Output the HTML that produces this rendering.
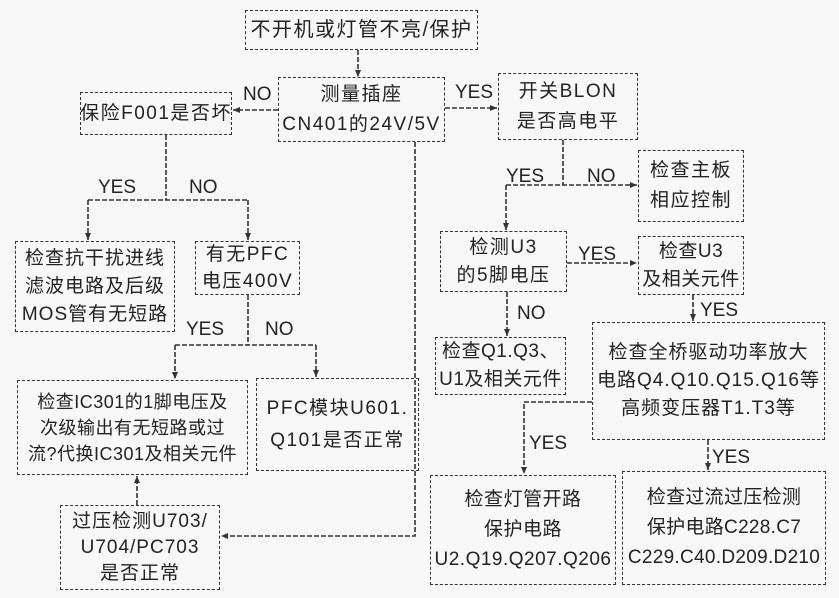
<!DOCTYPE html>
<html><head><meta charset="utf-8"><style>
html,body{margin:0;padding:0;background:#fff;}
#c{position:relative;width:839px;height:598px;overflow:hidden;background:#f8f8f8;font-family:"Liberation Sans","Noto Sans CJK SC",sans-serif;color:#222;}
.b{position:absolute;border:1.8px dashed #333;box-sizing:border-box;display:flex;align-items:center;justify-content:center;text-align:center;font-size:19px;line-height:27px;letter-spacing:1.5px;white-space:nowrap;}
.t{position:absolute;font-size:19px;color:#222;}
svg{position:absolute;left:0;top:0;}
</style></head><body><div id="c">
<svg width="839" height="598" stroke="#333" stroke-width="1.6" fill="none" stroke-dasharray="5 2">
<defs><marker id="a" markerWidth="8" markerHeight="8" refX="7" refY="4" orient="auto" markerUnits="userSpaceOnUse"><path d="M0,1 L7,4 L0,7 Z" fill="#333" stroke="none"/></marker></defs>
<line x1="358" y1="50" x2="358" y2="77" marker-end="url(#a)"/>
<line x1="278" y1="110" x2="233" y2="110" marker-end="url(#a)"/>
<line x1="445" y1="108" x2="497" y2="108" marker-end="url(#a)"/>
<polyline points="166,135 166,200"/>
<line x1="88" y1="200" x2="248" y2="200"/>
<line x1="88" y1="200" x2="88" y2="240" marker-end="url(#a)"/>
<line x1="248" y1="200" x2="248" y2="240" marker-end="url(#a)"/>
<line x1="248" y1="295" x2="248" y2="345"/>
<line x1="175" y1="345" x2="316" y2="345"/>
<line x1="175" y1="345" x2="175" y2="379" marker-end="url(#a)"/>
<line x1="316" y1="345" x2="316" y2="377" marker-end="url(#a)"/>
<line x1="137" y1="505" x2="137" y2="476" marker-end="url(#a)"/>
<polyline points="415,142 415,536 221,536" marker-end="url(#a)"/>
<line x1="563" y1="140" x2="563" y2="185"/>
<line x1="506" y1="185" x2="637" y2="185" marker-end="url(#a)"/>
<line x1="506" y1="185" x2="506" y2="230" marker-end="url(#a)"/>
<line x1="567" y1="263" x2="637" y2="263" marker-end="url(#a)"/>
<line x1="507" y1="292" x2="507" y2="336" marker-end="url(#a)"/>
<line x1="693" y1="295" x2="693" y2="321" marker-end="url(#a)"/>
<polyline points="592,402 524,402 524,474" marker-end="url(#a)"/>
<line x1="708" y1="440" x2="708" y2="470" marker-end="url(#a)"/>
</svg>
<div class="b" style="left:245px;top:10px;width:233px;height:40px;font-size:20px">不开机或灯管不亮/保护</div>
<div class="b" style="left:278px;top:77px;width:167px;height:65px;line-height:30px">测量插座<br>CN401的24V/5V</div>
<div class="b" style="left:80px;top:92px;width:152px;height:43px">保险F001是否坏</div>
<div class="b" style="left:498px;top:73px;width:140px;height:67px;line-height:30px">开关BLON<br>是否高电平</div>
<div class="b" style="left:638px;top:150px;width:106px;height:72px;line-height:30px">检查主板<br>相应控制</div>
<div class="b" style="left:440px;top:231px;width:127px;height:61px;line-height:28px">检测U3<br>的5脚电压</div>
<div class="b" style="left:638px;top:236px;width:106px;height:59px;line-height:28px;letter-spacing:0.5px">检查U3<br>及相关元件</div>
<div class="b" style="left:15px;top:241px;width:160px;height:91px;line-height:28px;letter-spacing:1px">检查抗干扰进线<br>滤波电路及后级<br>MOS管有无短路</div>
<div class="b" style="left:195px;top:241px;width:105px;height:54px;line-height:27px">有无PFC<br>电压400V</div>
<div class="b" style="left:435px;top:337px;width:131px;height:58px;line-height:28px;letter-spacing:0.5px">检查Q1.Q3、<br>U1及相关元件</div>
<div class="b" style="left:592px;top:322px;width:233px;height:118px;line-height:28px;letter-spacing:1px">检查全桥驱动功率放大<br>电路Q4.Q10.Q15.Q16等<br>高频变压器T1.T3等</div>
<div class="b" style="left:17px;top:380px;width:231px;height:95px;font-size:18px;line-height:26px;letter-spacing:0.5px">检查IC301的1脚电压及<br>次级输出有无短路或过<br>流?代换IC301及相关元件</div>
<div class="b" style="left:256px;top:378px;width:163px;height:93px;line-height:32px">PFC模块U601.<br>Q101是否正常</div>
<div class="b" style="left:60px;top:505px;width:160px;height:85px;line-height:26px;letter-spacing:1px">过压检测U703/<br>U704/PC703<br>是否正常</div>
<div class="b" style="left:430px;top:475px;width:186px;height:110px;line-height:30px;letter-spacing:0.5px">检查灯管开路<br>保护电路<br>U2.Q19.Q207.Q206</div>
<div class="b" style="left:622px;top:471px;width:204px;height:114px;line-height:30px;letter-spacing:0.3px">检查过流过压检测<br>保护电路C228.C7<br>C229.C40.D209.D210</div>
<div class="t" style="left:243px;top:84px">NO</div>
<div class="t" style="left:455px;top:82px">YES</div>
<div class="t" style="left:98px;top:177px">YES</div>
<div class="t" style="left:189px;top:177px">NO</div>
<div class="t" style="left:186px;top:319px">YES</div>
<div class="t" style="left:265px;top:319px">NO</div>
<div class="t" style="left:506px;top:166px">YES</div>
<div class="t" style="left:587px;top:166px">NO</div>
<div class="t" style="left:578px;top:244px">YES</div>
<div class="t" style="left:517px;top:303px">NO</div>
<div class="t" style="left:700px;top:300px">YES</div>
<div class="t" style="left:529px;top:433px">YES</div>
<div class="t" style="left:712px;top:447px">YES</div>
</div></body></html>
